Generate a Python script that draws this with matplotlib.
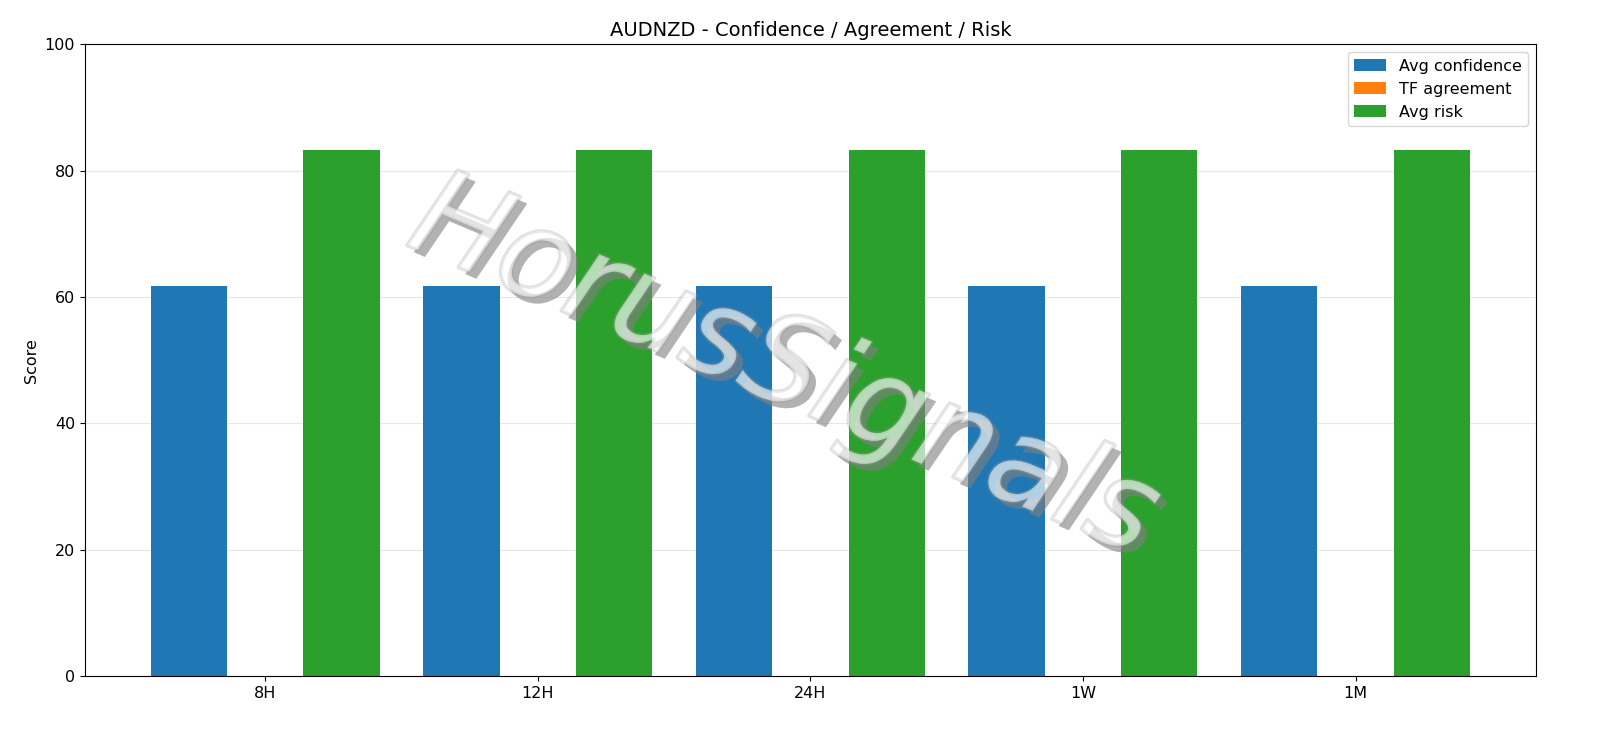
import matplotlib
matplotlib.use("Agg")
import matplotlib.pyplot as plt
import matplotlib.patheffects as pe
import numpy as np

categories = ["8H", "12H", "24H", "1W", "1M"]
avg_confidence = [61.7, 61.7, 61.7, 61.7, 61.7]
tf_agreement = [0, 0, 0, 0, 0]
avg_risk = [83.3, 83.3, 83.3, 83.3, 83.3]

fig, ax = plt.subplots(figsize=(16, 7.38), dpi=100)
fig.subplots_adjust(left=0.053, right=0.96, top=0.94, bottom=0.084)
x = np.arange(len(categories))
w = 0.28
ax.bar(x - w, avg_confidence, w, label="Avg confidence", color="#1f77b4", zorder=2)
ax.bar(x, tf_agreement, w, label="TF agreement", color="#ff7f0e", zorder=2)
ax.bar(x + w, avg_risk, w, label="Avg risk", color="#2ca02c", zorder=2)
ax.set_xticks(x)
ax.set_xticklabels(categories)
ax.set_ylim(0, 100)
ax.set_ylabel("Score")
ax.set_title("AUDNZD - Confidence / Agreement / Risk", fontsize=14)
ax.grid(axis="y", alpha=0.3, zorder=0)
ax.legend(loc="upper right", fontsize=11.5)
ax.tick_params(labelsize=11.5)
ax.yaxis.label.set_size(11.5)

fig.text(0.49, 0.50, "HorusSignals", fontsize=88, color="white", alpha=0.3,
         rotation=-23, ha="center", va="center", style="italic",
         path_effects=[pe.withSimplePatchShadow(offset=(5, -5), shadow_rgbFace="gray", alpha=0.6),
                       pe.withStroke(linewidth=2.5, foreground="#999999")])

fig.savefig("out.png", dpi=100)
